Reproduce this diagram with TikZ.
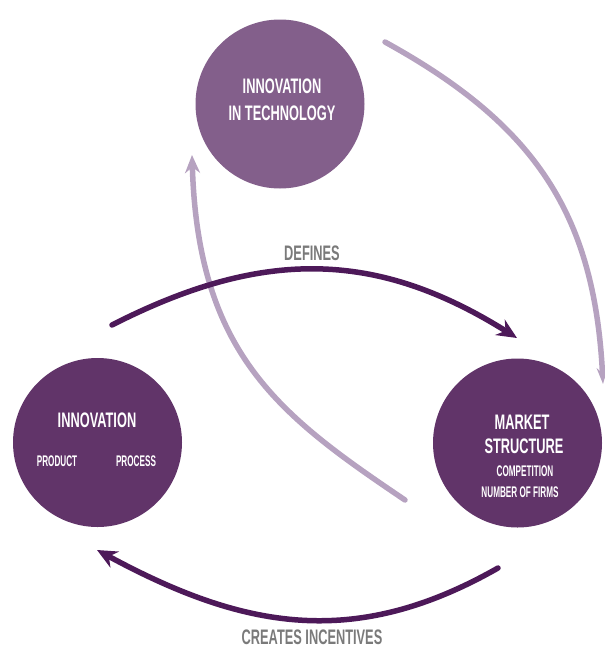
\documentclass[tikz,border=0pt]{standalone}
\usepackage{fontspec}
\newfontfamily\bebas{Liberation Sans}[FakeStretch=0.61]
\newfontfamily\bebassmall{Liberation Sans}[FakeStretch=0.53]
\usetikzlibrary{arrows.meta}
\definecolor{topc}{HTML}{835F8B}
\definecolor{botc}{HTML}{613469}
\definecolor{darkarr}{HTML}{4D1959}
\definecolor{lightarr}{HTML}{B6A2C0}
\definecolor{labelgray}{HTML}{7A7A7A}
\tikzset{
  bubble/.style={circle, draw=none, minimum size=169pt, inner sep=0pt},
  bigtxt/.style={text=white, font=\bebas\bfseries\fontsize{21}{27}\selectfont, align=center, inner sep=0pt},
  smalltxt/.style={text=white, font=\bebassmall\bfseries\fontsize{15.4}{18}\selectfont, inner sep=0pt},
  arclabel/.style={text=labelgray, font=\bebas\bfseries\fontsize{21}{25}\selectfont, inner sep=0pt},
  darkflow/.style={draw=darkarr, line width=5.5pt, line cap=round, -{Stealth[length=20pt,width=18pt]}},
  lightflow/.style={draw=lightarr, line width=5.5pt, line cap=round, -{Stealth[length=18pt,width=15pt]}},
}
\begin{document}
\begin{tikzpicture}[x=1pt,y=-1pt]
\useasboundingbox (0,0) rectangle (605,648);
% circles
\node[bubble, fill=topc] (tech) at (280,104) {};
\node[bubble, fill=botc] (innov) at (97.5,442.5) {};
\node[bubble, fill=botc] (market) at (517.5,443) {};
% texts
\node[bigtxt] (techtxt) at (282,99.5) {INNOVATION\\IN TECHNOLOGY};
\node[bigtxt] (innovtxt) at (97,420) {INNOVATION};
\node[smalltxt] (product) at (57,461) {PRODUCT};
\node[smalltxt] (process) at (136,461) {PROCESS};
\node[bigtxt] (mkt1) at (522,422) {MARKET};
\node[bigtxt] (mkt2) at (524,446) {STRUCTURE};
\node[smalltxt] (comp) at (525,471) {COMPETITION};
\node[smalltxt] (firms) at (520,492) {NUMBER OF FIRMS};
% arrow end coordinates
\coordinate (rs) at (385,42);
\coordinate (re) at (603,384);
\coordinate (ls) at (405,500);
\coordinate (le) at (192,155);
\coordinate (ds) at (112,325);
\coordinate (de) at (517,338);
\coordinate (cs) at (498,568);
\coordinate (ce) at (97,550);
% light arrows
\draw[lightflow, -{Stealth[length=16pt,width=11pt]}] (rs) .. controls (534,124) and (594.5,213) .. (re);
\draw[lightflow] (ls) .. controls (280.5,416) and (198,355) .. (le);
% dark arrows
\draw[darkflow] (ds) .. controls (261,249) and (375,249) .. (de);
\draw[darkflow] (cs) .. controls (354,650) and (243,629) .. (ce);
% labels
\node[arclabel] (defines) at (312,253.5) {DEFINES};
\node[arclabel] (creates) at (312,637) {CREATES INCENTIVES};
\end{tikzpicture}
\end{document}
